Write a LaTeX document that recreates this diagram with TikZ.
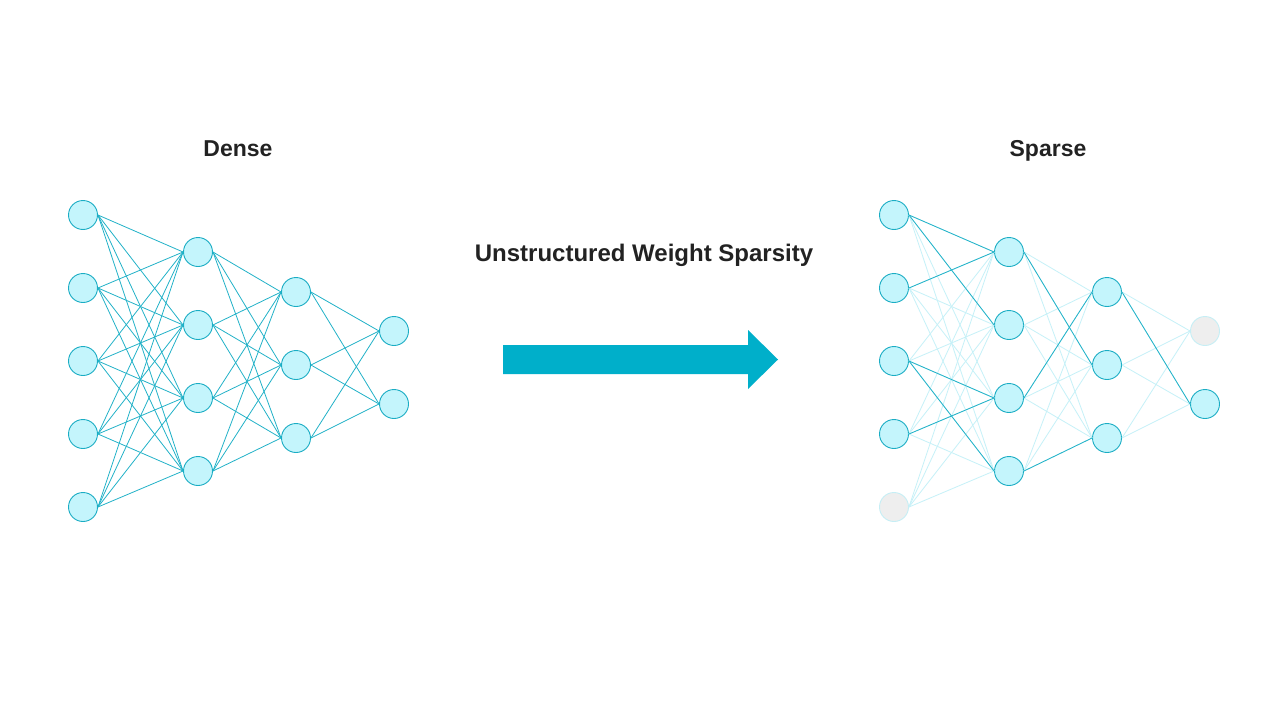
\documentclass[tikz,border=0pt]{standalone}
\usepackage{fontspec}
\setmainfont{Liberation Sans}
\definecolor{edge}{HTML}{22B2C8}
\definecolor{faint}{HTML}{C6F1F8}
\definecolor{nfill}{HTML}{C4F5FC}
\definecolor{nborder}{HTML}{1AADC4}
\definecolor{gfill}{HTML}{EEEEEE}
\definecolor{gborder}{HTML}{C6EEF5}
\definecolor{arrowc}{HTML}{00AFCA}
\definecolor{txt}{HTML}{222222}
\tikzset{
  neuron/.style={circle, draw=nborder, fill=nfill, line width=0.9pt, minimum size=29pt, inner sep=0pt},
  deadneuron/.style={circle, draw=gborder, fill=gfill, line width=0.9pt, minimum size=29pt, inner sep=0pt},
  wire/.style={draw=edge, line width=0.8pt},
  faintwire/.style={draw=faint, line width=0.8pt},
  title/.style={font=\fontsize{23}{26}\selectfont\bfseries, text=txt, anchor=base, inner sep=0pt},
  bigtitle/.style={font=\fontsize{24}{28}\selectfont\bfseries, text=txt, anchor=base, inner sep=0pt}
}
\begin{document}
\begin{tikzpicture}[x=1pt,y=-1pt]
\useasboundingbox (0,0) rectangle (1280,720);
\fill[white] (0,0) rectangle (1280,720);
% ---------- Dense network ----------
\foreach \i/\y in {1/215,2/288,3/361,4/434,5/507} \node[neuron] (dA\i) at (83,\y) {};
\foreach \i/\y in {1/252,2/325,3/398,4/471} \node[neuron] (dB\i) at (198,\y) {};
\foreach \i/\y in {1/292,2/365,3/438} \node[neuron] (dC\i) at (296,\y) {};
\foreach \i/\y in {1/331,2/404} \node[neuron] (dD\i) at (394,\y) {};
\foreach \i in {1,...,5} \foreach \j in {1,...,4} \draw[wire] (dA\i.east) -- (dB\j.west);
\foreach \i in {1,...,4} \foreach \j in {1,...,3} \draw[wire] (dB\i.east) -- (dC\j.west);
\foreach \i in {1,...,3} \foreach \j in {1,2} \draw[wire] (dC\i.east) -- (dD\j.west);
% ---------- Sparse network ----------
\foreach \i/\y in {1/215,2/288,3/361,4/434} \node[neuron] (sA\i) at (894,\y) {};
\node[deadneuron] (sA5) at (894,507) {};
\foreach \i/\y in {1/252,2/325,3/398,4/471} \node[neuron] (sB\i) at (1009,\y) {};
\foreach \i/\y in {1/292,2/365,3/438} \node[neuron] (sC\i) at (1107,\y) {};
\node[deadneuron] (sD1) at (1205,331) {};
\node[neuron] (sD2) at (1205,404) {};
\foreach \i in {1,...,5} \foreach \j in {1,...,4} \draw[faintwire] (sA\i.east) -- (sB\j.west);
\foreach \i in {1,...,4} \foreach \j in {1,...,3} \draw[faintwire] (sB\i.east) -- (sC\j.west);
\foreach \i in {1,...,3} \foreach \j in {1,2} \draw[faintwire] (sC\i.east) -- (sD\j.west);
\foreach \a/\b in {sA1/sB1,sA1/sB2,sA2/sB1,sA3/sB3,sA3/sB4,sA4/sB3,sB1/sC2,sB3/sC1,sB4/sC3,sC1/sD2}
  \draw[wire] (\a.east) -- (\b.west);
% ---------- Titles ----------
\node[title] (dense) at (238,156) {Dense};
\node[title] (sparse) at (1048,156) {Sparse};
\node[bigtitle] (method) at (644,261) {Unstructured Weight Sparsity};
% ---------- Arrow ----------
\fill[arrowc] (503,345) -- (748,345) -- (748,330) -- (778,359.5) -- (748,389) -- (748,374) -- (503,374) -- cycle;
\end{tikzpicture}
\end{document}
